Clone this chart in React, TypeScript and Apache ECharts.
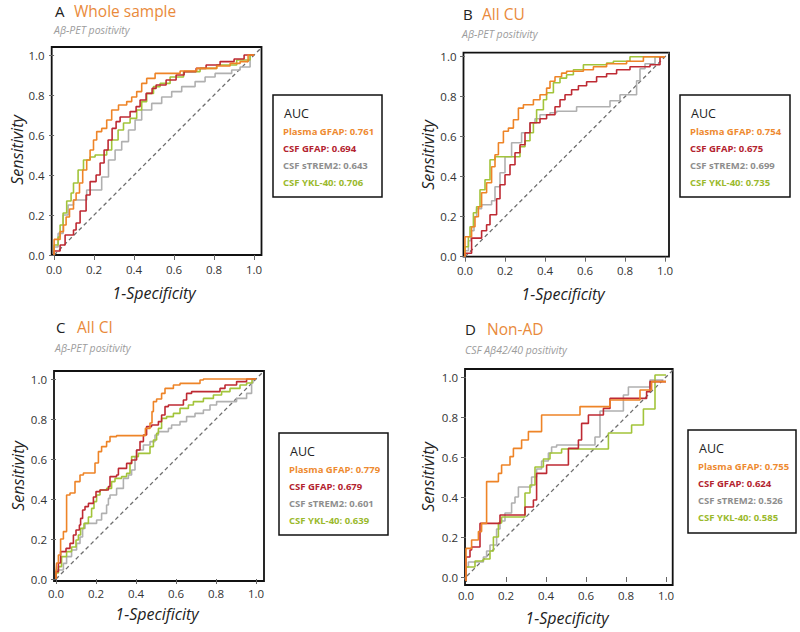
import React, { useEffect, useRef } from 'react';
import * as echarts from 'echarts';

// ---------- data ----------
const TICK_VALUES = [0, 0.2, 0.4, 0.6, 0.8, 1.0];
const MARKERS = ['Plasma GFAP', 'CSF GFAP', 'CSF sTREM2', 'CSF YKL-40'];
const PANEL_LETTERS = ['A', 'B', 'C', 'D'];
const PANEL_TITLES = ['Whole sample', 'All CU', 'All CI', 'Non-AD'];
const PANEL_SUBTITLES = ['Aβ-PET positivity', 'Aβ-PET positivity', 'Aβ-PET positivity', 'CSF Aβ42/40 positivity'];

const AUC_A = [0.761, 0.694, 0.643, 0.706];
const AUC_B = [0.754, 0.675, 0.699, 0.735];
const AUC_C = [0.779, 0.679, 0.601, 0.639];
const AUC_D = [0.755, 0.624, 0.526, 0.585];

// ROC points: [1-specificity where a sensitivity level ends, sensitivity level]
const A_PLASMA = [[0,0],[0.03,0.078],[0.047,0.117],[0.06,0.15],[0.077,0.19],[0.097,0.23],[0.11,0.275],[0.127,0.31],[0.143,0.36],[0.163,0.425],[0.18,0.475],[0.197,0.525],[0.213,0.575],[0.238,0.617],[0.263,0.633],[0.288,0.675],[0.322,0.725],[0.363,0.75],[0.388,0.767],[0.413,0.79],[0.438,0.817],[0.463,0.858],[0.505,0.883],[0.63,0.908],[0.713,0.92],[0.813,0.933],[0.88,0.945],[0.93,0.958],[0.97,0.967],[1,1]];
const A_GFAP = [[0,0],[0.03,0.02],[0.055,0.05],[0.097,0.1],[0.11,0.125],[0.13,0.16],[0.16,0.22],[0.18,0.3],[0.21,0.367],[0.23,0.4],[0.25,0.46],[0.27,0.525],[0.29,0.575],[0.31,0.633],[0.33,0.667],[0.38,0.69],[0.41,0.717],[0.43,0.742],[0.46,0.775],[0.49,0.808],[0.51,0.833],[0.56,0.85],[0.61,0.875],[0.65,0.9],[0.71,0.917],[0.76,0.933],[0.83,0.95],[0.9,0.967],[0.95,0.98],[1,1]];
const A_STREM2 = [[0,0],[0.02,0.04],[0.045,0.108],[0.07,0.2],[0.097,0.25],[0.163,0.275],[0.238,0.325],[0.272,0.39],[0.305,0.475],[0.338,0.525],[0.372,0.567],[0.405,0.625],[0.438,0.675],[0.488,0.725],[0.538,0.758],[0.588,0.79],[0.638,0.817],[0.705,0.842],[0.755,0.867],[0.805,0.89],[0.888,0.908],[0.93,0.925],[0.98,0.94],[1,1]];
const A_YKL40 = [[0,0],[0.02,0.05],[0.03,0.09],[0.045,0.15],[0.063,0.21],[0.085,0.27],[0.097,0.31],[0.12,0.36],[0.147,0.425],[0.18,0.475],[0.205,0.49],[0.263,0.5],[0.288,0.525],[0.32,0.575],[0.347,0.625],[0.38,0.66],[0.413,0.683],[0.438,0.725],[0.463,0.767],[0.497,0.808],[0.53,0.842],[0.58,0.858],[0.647,0.89],[0.73,0.917],[0.813,0.933],[0.913,0.95],[0.98,0.975],[1,1]];

const B_PLASMA = [[0,0],[0.033,0.1],[0.05,0.15],[0.067,0.2],[0.083,0.25],[0.108,0.32],[0.133,0.37],[0.15,0.45],[0.167,0.51],[0.192,0.57],[0.217,0.627],[0.242,0.643],[0.267,0.685],[0.292,0.743],[0.342,0.76],[0.375,0.785],[0.408,0.81],[0.425,0.843],[0.45,0.877],[0.483,0.9],[0.508,0.918],[0.592,0.927],[0.642,0.935],[0.708,0.95],[0.808,0.965],[0.892,0.977],[1,1]];
const B_GFAP = [[0,0],[0.033,0.017],[0.083,0.093],[0.108,0.13],[0.125,0.16],[0.158,0.21],[0.175,0.29],[0.2,0.36],[0.225,0.41],[0.25,0.46],[0.275,0.52],[0.3,0.56],[0.325,0.62],[0.375,0.67],[0.408,0.69],[0.45,0.71],[0.475,0.75],[0.5,0.785],[0.533,0.81],[0.567,0.835],[0.608,0.855],[0.658,0.875],[0.708,0.9],[0.758,0.915],[0.825,0.935],[0.925,0.95],[0.975,0.96],[1,1]];
const B_STREM2 = [[0,0],[0.017,0.03],[0.03,0.08],[0.045,0.13],[0.058,0.2],[0.083,0.24],[0.133,0.26],[0.15,0.28],[0.175,0.35],[0.2,0.42],[0.233,0.5],[0.283,0.57],[0.325,0.62],[0.35,0.67],[0.375,0.69],[0.425,0.71],[0.458,0.72],[0.558,0.727],[0.725,0.75],[0.775,0.78],[0.858,0.81],[0.875,0.88],[0.9,0.94],[0.95,0.965],[1,1]];
const B_YKL40 = [[0,0],[0.017,0.05],[0.025,0.1],[0.042,0.15],[0.058,0.22],[0.075,0.25],[0.1,0.335],[0.125,0.385],[0.15,0.485],[0.275,0.5],[0.3,0.55],[0.325,0.58],[0.342,0.62],[0.358,0.67],[0.392,0.735],[0.408,0.785],[0.442,0.82],[0.475,0.87],[0.508,0.893],[0.542,0.91],[0.592,0.935],[0.708,0.96],[0.742,0.968],[0.825,0.977],[0.958,1],[1,1]];

const C_PLASMA = [[0,0],[0.003,0.037],[0.012,0.08],[0.023,0.12],[0.037,0.2],[0.053,0.237],[0.07,0.42],[0.095,0.43],[0.12,0.487],[0.137,0.52],[0.195,0.53],[0.212,0.58],[0.228,0.637],[0.253,0.662],[0.27,0.687],[0.303,0.712],[0.447,0.717],[0.47,0.753],[0.48,0.78],[0.487,0.837],[0.503,0.887],[0.528,0.9],[0.545,0.928],[0.587,0.953],[0.62,0.97],[0.72,0.978],[0.737,0.995],[1,1]];
const C_GFAP = [[0,0],[0.012,0.037],[0.023,0.08],[0.05,0.137],[0.07,0.153],[0.087,0.178],[0.1,0.22],[0.117,0.245],[0.123,0.27],[0.133,0.303],[0.145,0.345],[0.162,0.362],[0.187,0.378],[0.2,0.41],[0.22,0.437],[0.262,0.445],[0.27,0.462],[0.303,0.512],[0.312,0.52],[0.353,0.553],[0.378,0.578],[0.403,0.595],[0.42,0.645],[0.437,0.687],[0.453,0.72],[0.478,0.762],[0.512,0.77],[0.528,0.787],[0.545,0.82],[0.562,0.862],[0.637,0.87],[0.653,0.895],[0.678,0.928],[0.82,0.937],[0.845,0.953],[0.903,0.97],[0.953,0.987],[1,1]];
const C_STREM2 = [[0,0],[0.037,0.045],[0.053,0.078],[0.078,0.112],[0.103,0.145],[0.12,0.178],[0.133,0.21],[0.145,0.253],[0.203,0.278],[0.228,0.295],[0.253,0.328],[0.262,0.37],[0.27,0.403],[0.303,0.42],[0.337,0.453],[0.362,0.503],[0.378,0.52],[0.395,0.545],[0.403,0.612],[0.437,0.645],[0.47,0.67],[0.495,0.687],[0.512,0.72],[0.562,0.737],[0.578,0.753],[0.62,0.77],[0.653,0.787],[0.695,0.812],[0.737,0.828],[0.77,0.845],[0.803,0.87],[0.903,0.887],[0.953,0.903],[0.978,0.928],[0.985,0.98],[1,1]];
const C_YKL40 = [[0,0],[0.012,0.03],[0.028,0.062],[0.053,0.112],[0.078,0.137],[0.1,0.16],[0.112,0.195],[0.123,0.22],[0.14,0.253],[0.162,0.278],[0.178,0.31],[0.19,0.353],[0.203,0.387],[0.22,0.42],[0.253,0.445],[0.278,0.453],[0.295,0.487],[0.328,0.503],[0.353,0.512],[0.37,0.528],[0.378,0.578],[0.412,0.612],[0.47,0.628],[0.487,0.662],[0.503,0.695],[0.512,0.728],[0.528,0.753],[0.553,0.803],[0.587,0.812],[0.62,0.828],[0.662,0.853],[0.687,0.87],[0.737,0.887],[0.787,0.903],[0.828,0.92],[0.87,0.937],[0.92,0.953],[0.953,0.97],[0.98,0.98],[1,1]];

const D_PLASMA = [[0,-0.02],[0.028,0.143],[0.062,0.185],[0.078,0.227],[0.103,0.268],[0.162,0.477],[0.178,0.518],[0.22,0.56],[0.237,0.602],[0.278,0.643],[0.312,0.685],[0.378,0.727],[0.57,0.81],[0.72,0.852],[0.87,0.885],[0.928,0.935],[1.0,0.977]];
const D_GFAP = [[0,-0.02],[0.02,0.1],[0.028,0.135],[0.07,0.15],[0.17,0.268],[0.295,0.31],[0.337,0.35],[0.353,0.385],[0.403,0.518],[0.512,0.56],[0.562,0.643],[0.578,0.685],[0.612,0.768],[0.687,0.81],[0.72,0.843],[0.903,0.893],[0.92,0.927],[1.0,0.977]];
const D_STREM2 = [[0,-0.02],[0.012,0.05],[0.087,0.075],[0.103,0.1],[0.12,0.13],[0.153,0.16],[0.17,0.24],[0.195,0.28],[0.228,0.32],[0.245,0.37],[0.262,0.4],[0.328,0.45],[0.353,0.5],[0.378,0.54],[0.412,0.58],[0.428,0.62],[0.453,0.65],[0.645,0.66],[0.67,0.7],[0.787,0.83],[0.812,0.91],[0.92,0.95],[0.987,0.985]];
const D_YKL40 = [[0,-0.02],[0.045,0.05],[0.087,0.08],[0.12,0.09],[0.137,0.13],[0.162,0.2],[0.178,0.27],[0.295,0.3],[0.32,0.42],[0.345,0.46],[0.387,0.55],[0.42,0.59],[0.478,0.62],[0.712,0.64],[0.828,0.72],[0.887,0.76],[0.945,0.84],[1.0,1.01]];

const CURVES = [
  [A_PLASMA, A_GFAP, A_STREM2, A_YKL40],
  [B_PLASMA, B_GFAP, B_STREM2, B_YKL40],
  [C_PLASMA, C_GFAP, C_STREM2, C_YKL40],
  [D_PLASMA, D_GFAP, D_STREM2, D_YKL40],
];
const AUCS = [AUC_A, AUC_B, AUC_C, AUC_D];

// ---------- layout / style ----------
const LINE_COLORS = ['#EE8427', '#BE2A33', '#B0B0B0', '#A2C43A'];
const TEXT_COLORS = ['#EE8A30', '#B3232F', '#8E8E8E', '#9AB92C'];
const TITLE_COLOR = '#E98A3B';
const FONT = '"Open Sans", "Noto Sans", sans-serif';

const LAYOUT = [
  { grid: { left: 51.7, top: 47, width: 209.8, height: 208 }, x: [-0.012, 1.037], y: [0, 1.04],
    letter: [55, 11], title: [74, 11], sub: [54, 29.5], yName: [17, 150], xName: [154, 293], xMargin: 8,
    box: [273, 95, 109, 102], diag: [0, 1.04] },
  { grid: { left: 463.5, top: 52.7, width: 205.5, height: 204 }, x: [-0.0075, 1.02], y: [0, 1.02],
    letter: [463, 14], title: [482, 14], sub: [462, 33.5], yName: [428, 155], xName: [563, 294], xMargin: 8,
    box: [680, 95, 110, 102], diag: [0, 1.02] },
  { grid: { left: 54, top: 371, width: 210, height: 210 }, x: [-0.01, 1.04], y: [-0.01, 1.04],
    letter: [56, 327], title: [77, 327], sub: [55, 348], yName: [18, 476], xName: [157, 614], xMargin: 6,
    box: [279, 433, 109, 102], diag: [0, 1.04] },
  { grid: { left: 465, top: 369, width: 207.7, height: 216 }, x: [-0.005, 1.0335], y: [-0.04, 1.04],
    letter: [465, 329], title: [487, 329], sub: [465, 350], yName: [428, 477], xName: [567, 618], xMargin: 4,
    box: [688, 430, 108, 103], diag: [-0.02, 1.04] },
];

function txt(text: string, x: number, y: number, opts: any = {}) {
  return {
    type: 'text',
    x, y,
    rotation: opts.rotation || 0,
    silent: true,
    style: {
      text,
      fill: opts.fill || '#222',
      fontSize: opts.fontSize || 12,
      fontFamily: FONT,
      fontStyle: opts.fontStyle || 'normal',
      fontWeight: opts.fontWeight || 'normal',
      align: opts.align || 'left',
      verticalAlign: 'middle',
      textAlign: opts.align || 'left',
      textVerticalAlign: 'middle',
    },
  };
}

function buildOption() {
  const grids: any[] = [];
  const xAxes: any[] = [];
  const yAxes: any[] = [];
  const series: any[] = [];
  const graphics: any[] = [];

  LAYOUT.forEach((L, i) => {
    grids.push({ ...L.grid, show: true, borderColor: '#111', borderWidth: 1.8, backgroundColor: '#fff' });
    const common = {
      type: 'value',
      gridIndex: i,
      axisLine: { show: false },
      splitLine: { show: false },
      axisTick: { show: true, inside: false, length: 5, customValues: TICK_VALUES, lineStyle: { color: '#666', width: 1 } },
      axisLabel: {
        show: true, customValues: TICK_VALUES, color: '#333', fontSize: 11.5, fontFamily: FONT,
        formatter: (v: number) => v.toFixed(1),
      },
    };
    xAxes.push({ ...common, min: L.x[0], max: L.x[1], axisLabel: { ...common.axisLabel, margin: L.xMargin } });
    yAxes.push({ ...common, min: L.y[0], max: L.y[1], axisLabel: { ...common.axisLabel, margin: 7 } });

    series.push({
      type: 'line', xAxisIndex: i, yAxisIndex: i, data: [[L.diag[0], L.diag[0]], [L.diag[1], L.diag[1]]],
      symbol: 'none', silent: true, clip: true,
      lineStyle: { color: '#6E6E6E', width: 1.3, type: [4, 3] }, z: 1,
    });
    const order = [2, 3, 1, 0];
    order.forEach((k) => {
      series.push({
        type: 'line', name: MARKERS[k], xAxisIndex: i, yAxisIndex: i, data: CURVES[i][k],
        step: 'start', symbol: 'none', showSymbol: false, silent: true, clip: true,
        lineStyle: { color: LINE_COLORS[k], width: 1.6 }, z: 2,
      });
    });

    graphics.push(txt(PANEL_LETTERS[i], L.letter[0], L.letter[1], { fontSize: 15, fill: '#222' }));
    graphics.push(txt(PANEL_TITLES[i], L.title[0], L.title[1], { fontSize: 15.5, fill: TITLE_COLOR }));
    graphics.push(txt(PANEL_SUBTITLES[i], L.sub[0], L.sub[1], { fontSize: 10.5, fill: '#9C9C9C', fontStyle: 'italic' }));
    graphics.push(txt('Sensitivity', L.yName[0], L.yName[1], { fontSize: 16, fontStyle: 'italic', align: 'center', rotation: Math.PI / 2, fill: '#222' }));
    graphics.push(txt('1-Specificity', L.xName[0], L.xName[1], { fontSize: 16, fontStyle: 'italic', align: 'center', fill: '#222' }));

    const [bx, by, bw, bh] = L.box;
    graphics.push({
      type: 'rect', silent: true,
      shape: { x: bx, y: by, width: bw, height: bh },
      style: { fill: '#fff', stroke: '#111', lineWidth: 1.5 },
    });
    graphics.push(txt('AUC', bx + 11, by + 18, { fontSize: 12.5, fill: '#222' }));
    MARKERS.forEach((m, k) => {
      graphics.push(txt(`${m}: ${AUCS[i][k].toFixed(3)}`, bx + 10, by + 36 + k * 17, {
        fontSize: 9.5, fontWeight: 'bold', fill: TEXT_COLORS[k],
      }));
    });
  });

  return {
    animation: false,
    backgroundColor: '#fff',
    grid: grids,
    xAxis: xAxes,
    yAxis: yAxes,
    series,
    graphic: { elements: graphics },
  };
}

export default function App() {
  const ref = useRef<HTMLDivElement>(null);
  useEffect(() => {
    if (!ref.current) return;
    const chart = echarts.init(ref.current, undefined, { renderer: 'svg', width: 800, height: 632 });
    chart.setOption(buildOption() as any);
    return () => chart.dispose();
  }, []);
  return <div ref={ref} style={{ position: 'absolute', left: 0, top: 0, width: 800, height: 632 }} />;
}
